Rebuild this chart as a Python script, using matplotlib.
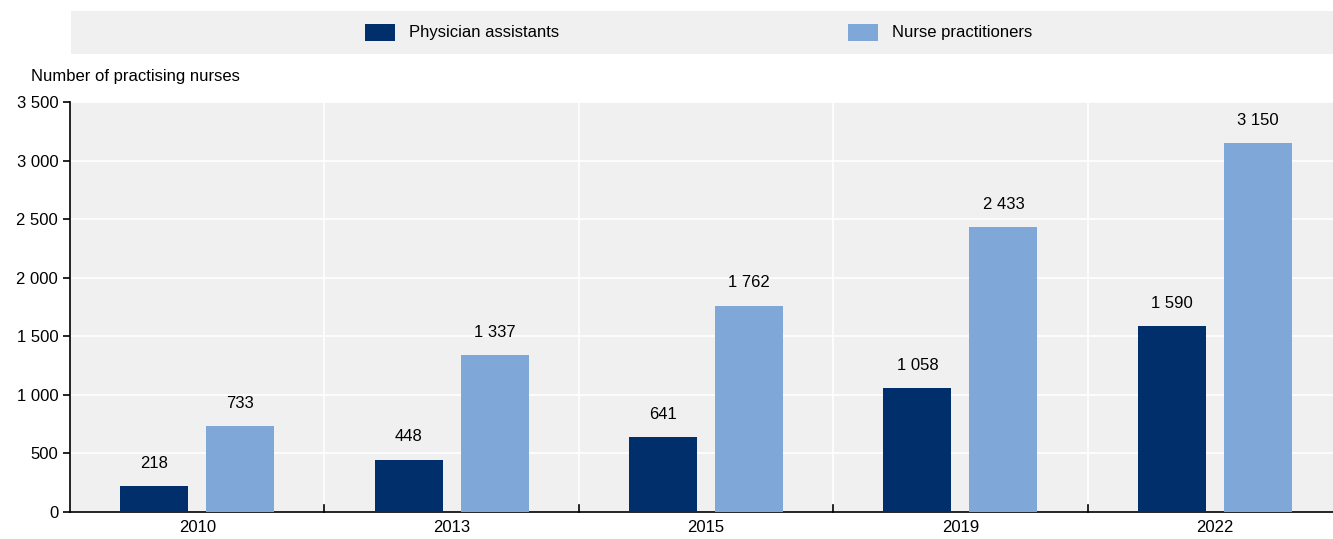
import numpy as np
import matplotlib.pyplot as plt
from matplotlib.patches import Rectangle

# ----------------------------
# Data
# ----------------------------
years = ["2010", "2013", "2015", "2019", "2022"]
physician_assistants = [218, 448, 641, 1058, 1590]
nurse_practitioners = [733, 1337, 1762, 2433, 3150]

plt.rcParams['font.family'] = ['Liberation Sans Narrow', 'Liberation Sans', 'DejaVu Sans']

dark = "#002F6C"
light = "#7FA8D9"
bg = "#F0F0F0"

fig = plt.figure(figsize=(13.33, 5.39), dpi=100)
# plot area runs slightly past the right edge, as in the original
ax = fig.add_axes([70/1333, 27/539, 1272/1333, 410/539])
ax.set_facecolor(bg)

x = np.arange(len(years))
w = 0.267
off = 0.169

b1 = ax.bar(x - off, physician_assistants, w, color=dark, zorder=3)
b2 = ax.bar(x + off, nurse_practitioners, w, color=light, zorder=3)


def fmt(v):
    return f"{v:,}".replace(",", " ")


for bars, vals in [(b1, physician_assistants), (b2, nurse_practitioners)]:
    for b, v in zip(bars, vals):
        ax.text(b.get_x() + b.get_width() / 2, v + 130, fmt(v),
                ha="center", va="bottom", fontsize=12, color="black")

ax.set_xlim(-0.5, len(years) - 0.5)
ax.set_ylim(0, 3500)
ax.set_yticks(np.arange(0, 3501, 500))
ax.set_yticklabels([fmt(v) for v in range(0, 3501, 500)], fontsize=12)
ax.set_xticks(x)
ax.set_xticklabels(years, fontsize=12)
ax.tick_params(axis="x", length=0, pad=6)
ax.tick_params(axis="y", direction="out", length=5, width=1.2)

# horizontal white gridlines
for v in range(500, 3501, 500):
    ax.axhline(v, color="white", lw=1.2, zorder=1)
# vertical separators between categories
for b in np.arange(0.5, len(years) - 0.5, 1):
    ax.axvline(b, color="white", lw=1.2, zorder=1)
    ax.plot([b, b], [0, 60], color="black", lw=1.2, zorder=4, clip_on=False)

for s in ["top", "right"]:
    ax.spines[s].set_visible(False)
ax.spines["left"].set_linewidth(1.2)
ax.spines["bottom"].set_linewidth(1.2)

fig.text(31/1333, 1 - 77/539, "Number of practising nurses", fontsize=12,
         ha="left", va="center")

# legend band
fig.patches.append(Rectangle((71/1333, 1 - 54/539), 1262/1333, 43/539,
                             transform=fig.transFigure, facecolor=bg,
                             edgecolor="none", zorder=0))
for xpos, col, lab in [(365, dark, "Physician assistants"),
                       (848, light, "Nurse practitioners")]:
    fig.patches.append(Rectangle((xpos/1333, 1 - 41/539), 30/1333, 17/539,
                                 transform=fig.transFigure, facecolor=col,
                                 edgecolor="none"))
    fig.text((xpos + 44)/1333, 1 - 33/539, lab, fontsize=12,
             ha="left", va="center")

fig.savefig("out.png", dpi=100)
